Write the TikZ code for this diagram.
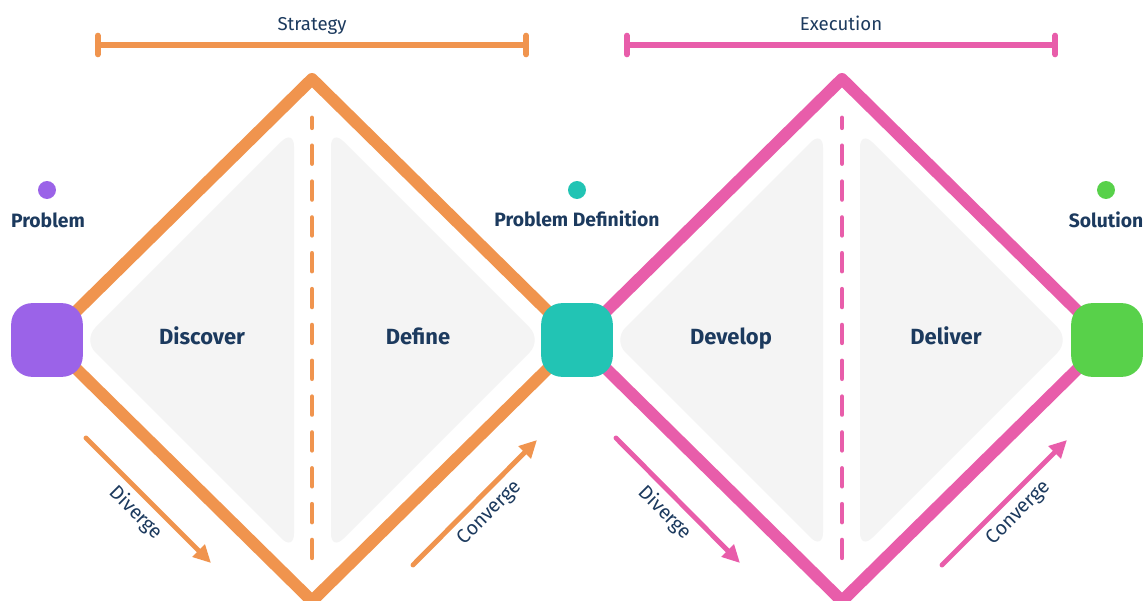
\documentclass[tikz,border=0pt]{standalone}
\usepackage{fontspec}
\setmainfont{Fira Sans}
\usetikzlibrary{arrows.meta}

\definecolor{strat}{HTML}{F0944E}
\definecolor{exec}{HTML}{E85DAA}
\definecolor{ink}{HTML}{1C3A5E}
\definecolor{panel}{HTML}{F4F4F4}
\definecolor{probcol}{HTML}{9B63E8}
\definecolor{defcol}{HTML}{22C4B4}
\definecolor{solcol}{HTML}{58D14A}

\tikzset{
  diamondline/.style={line width=6.8pt, line join=round},
  midline/.style={line width=2.8pt, line cap=round, dash pattern=on 10pt off 10.4pt, dash phase=4.5pt},
  span/.style={line width=3.2pt, {Bar[width=10.8pt,line cap=round]}-{Bar[width=10.8pt,line cap=round]}},
  move/.style={line width=2.8pt, line cap=round, -{Triangle[length=10pt,width=9.5pt]}},
  stagebox/.style={rounded corners=12pt, minimum width=40.8pt, minimum height=42pt, inner sep=0pt},
  stagedot/.style={circle, minimum size=10.2pt, inner sep=0pt},
  phase/.style={font=\fontsize{12.5}{15}\selectfont\bfseries, text=ink, anchor=base},
  stage/.style={font=\fontsize{11}{13}\selectfont\bfseries, text=ink, anchor=base},
  spantext/.style={font=\fontsize{10.6}{12}\selectfont, text=ink, anchor=base},
  movetext/.style={font=\fontsize{11.2}{13}\selectfont, text=ink}
}

\begin{document}
\begin{tikzpicture}[x=0.02cm,y=-0.02cm]
        \clip (0,0) rectangle (1144,601);
        \fill[white] (0,0) rectangle (1144,601);

        % corners of the two diamonds
        \coordinate (p) at (47,340);
        \coordinate (d) at (577,340);
        \coordinate (s) at (1107,340);
        \coordinate (top1) at (312,79);
        \coordinate (bot1) at (312,601);
        \coordinate (top2) at (842,79);
        \coordinate (bot2) at (842,601);

        % grey halves
        \fill[panel, rounded corners=10pt] (83,340) -- (294,129) -- (294,551) -- cycle;
        \fill[panel, rounded corners=10pt] (331,129) -- (542,340) -- (331,551) -- cycle;
        \fill[panel, rounded corners=10pt] (613,340) -- (823,130) -- (823,550) -- cycle;
        \fill[panel, rounded corners=10pt] (860,130) -- (1070,340) -- (860,550) -- cycle;

        \draw[diamondline, strat] (p) -- (top1) -- (d) -- (bot1) -- cycle;
        \draw[diamondline, exec] (d) -- (top2) -- (s) -- (bot2) -- cycle;

        \draw[midline, strat] (312,118) -- (312,558);
        \draw[midline, exec] (842,118) -- (842,558);

        % Strategy / Execution
        \coordinate (sa) at (95,45);
        \coordinate (sb) at (529,45);
        \coordinate (ea) at (624,45);
        \coordinate (eb) at (1058,45);
        \draw[span, strat] (sa) -- (sb);
        \draw[span, exec] (ea) -- (eb);
        \node[spantext] (strategy) at (312,31) {Strategy};
        \node[spantext] (execution) at (841,31) {Execution};

        \node[stagebox, fill=probcol] (problem) at (p) {};
        \node[stagebox, fill=defcol] (definition) at (d) {};
        \node[stagebox, fill=solcol] (solution) at (s) {};

        \node[stagedot, fill=probcol] (pdot) at (47,190) {};
        \node[stagedot, fill=defcol] (ddot) at (577,190) {};
        \node[stagedot, fill=solcol] (sdot) at (1106,190) {};
        \node[stage] (plabel) at (48,228) {Problem};
        \node[stage] (dlabel) at (577,227) {Problem Definition};
        \node[stage] (slabel) at (1106,228) {Solution};

        \node[phase] (discover) at (202,345) {Discover};
        \node[phase] (define) at (418,345) {Define};
        \node[phase] (develop) at (731,345) {Develop};
        \node[phase] (deliver) at (946,345) {Deliver};

        % diverge / converge arrows
        \coordinate (dv1a) at (86,438);
        \coordinate (dv1b) at (211,563);
        \coordinate (cv1a) at (413,565);
        \coordinate (cv1b) at (537,440);
        \coordinate (dv2a) at (616,438);
        \coordinate (dv2b) at (740,563);
        \coordinate (cv2a) at (942,565);
        \coordinate (cv2b) at (1067,440);
        \draw[move, strat] (dv1a) -- (dv1b);
        \draw[move, strat] (cv1a) -- (cv1b);
        \draw[move, exec] (dv2a) -- (dv2b);
        \draw[move, exec] (cv2a) -- (cv2b);
        \node[movetext, rotate=-45] (div1) at (136,513) {Diverge};
        \node[movetext, rotate=45] (con1) at (490,513) {Converge};
        \node[movetext, rotate=-45] (div2) at (665,513) {Diverge};
        \node[movetext, rotate=45] (con2) at (1019,513) {Converge};
    \end{tikzpicture}
\end{document}
